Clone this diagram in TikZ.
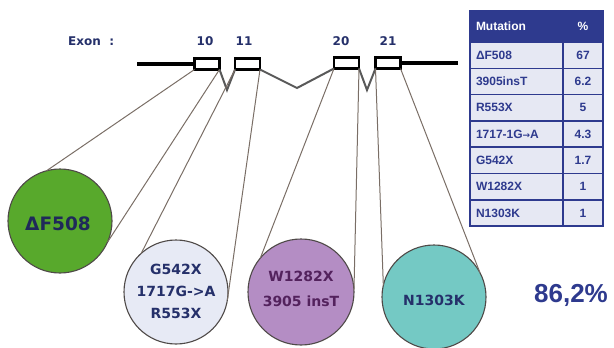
\documentclass[tikz,border=0pt]{standalone}
\usepackage{fontspec}
\setmainfont{Liberation Sans}
\newfontfamily\comic{DejaVu Sans}
\newfontfamily\dejavu{DejaVu Sans}
\definecolor{cgreen}{HTML}{58A92C}
\definecolor{clight}{HTML}{E7EAF5}
\definecolor{cpurple}{HTML}{B48DC4}
\definecolor{cteal}{HTML}{74C9C4}
\definecolor{navy}{HTML}{25306A}
\definecolor{tblue}{HTML}{2E3A8E}
\definecolor{cellfill}{HTML}{E6E8F3}
\definecolor{tangent}{HTML}{7A6E66}
\definecolor{ring}{HTML}{4F4A48}
\tikzset{
  gene/.style={line width=3.2pt, black},
  intron/.style={line width=2pt, black!65, line join=miter},
  exonbox/.style={draw=black, line width=2.8pt, fill=white, minimum width=25pt, minimum height=11pt, inner sep=0pt, outer sep=0pt},
  tline/.style={draw=tangent, line width=1pt},
  bubble/.style={circle, draw=ring, line width=1.1pt, minimum size=104pt, inner sep=0pt, outer sep=0pt},
  ctext/.style={text=navy, align=center, font=\comic\bfseries\fontsize{14}{22.5}\selectfont, inner sep=0pt},
  lbl/.style={text=navy, font=\comic\bfseries\fontsize{12}{13}\selectfont, inner sep=0pt},
  cellL/.style={draw=tblue, line width=1.6pt, fill=cellfill, text=tblue, minimum height=26.3pt, text width=81pt, inner xsep=6pt, inner ysep=0pt, outer sep=0pt, align=left, font=\bfseries\fontsize{12}{13}\selectfont},
  cellR/.style={draw=tblue, line width=1.6pt, fill=cellfill, text=tblue, minimum height=26.3pt, minimum width=40pt, inner sep=0pt, outer sep=0pt, align=center, font=\bfseries\fontsize{12}{13}\selectfont},
  headL/.style={cellL, fill=tblue, text=white, minimum height=31pt},
  headR/.style={cellR, fill=tblue, text=white, minimum height=31pt},
}
\begin{document}
\begin{tikzpicture}[x=1pt,y=-1pt]
\useasboundingbox (0,0) rectangle (614,348);
% labels
\node[lbl, anchor=west] (exlbl) at (68,41) {Exon \ :};
\node[lbl] (l10) at (205,41) {10};
\node[lbl] (l11) at (244,41) {11};
\node[lbl] (l20) at (341,41) {20};
\node[lbl] (l21) at (388,41) {21};
% gene line
\coordinate (gL) at (137,64);
\coordinate (gR) at (458,63);
\node[exonbox] (e10) at (207,64) {};
\node[exonbox] (e11) at (247.5,64) {};
\node[exonbox] (e20) at (346.5,63) {};
\node[exonbox] (e21) at (388,63) {};
\draw[gene] (gL) -- (e10.west);
\draw[gene] (e21.east) -- (gR);
\coordinate (v1) at (227,90);
\coordinate (v2) at (297,88);
\coordinate (v3) at (367,90);
\draw[intron] (e10.south east) -- (v1) -- (e11.south west);
\draw[intron] (e11.south east) -- (v2) -- (e20.south west);
\draw[intron] (e20.south east) -- (v3) -- (e21.south west);
% circles
\node[bubble, fill=cgreen] (cF) at (60,221) {};
\node[bubble, fill=clight] (cL) at (176,292) {};
\node[bubble, fill=cpurple, minimum size=106pt] (cP) at (301,292) {};
\node[bubble, fill=cteal] (cT) at (434,297) {};
\node[ctext, font=\comic\bfseries\fontsize{18.5}{20}\selectfont, text=navy!85!black] (tF) at (58,224) {ΔF508};
\node[ctext, font=\comic\bfseries\fontsize{14}{22}\selectfont] (tL) at (176,291) {G542X\\1717G->A\\R553X};
\node[ctext, font=\comic\bfseries\fontsize{14}{25}\selectfont, text=navy!70!purple] (tP) at (301,289) {W1282X\\3905 insT};
\node[ctext] (tT) at (434,300) {N1303K};
% tangent lines
\draw[tline] (e10.south west) -- (cF.105);
\draw[tline] (e10.south east) -- (cF.-24);
\draw[tline] (e11.south west) -- (cL.132);
\draw[tline] (e11.south east) -- (cL.-9);
\draw[tline] (e20.south west) -- (cP.140);
\draw[tline] (e20.south east) -- (cP.2);
\draw[tline] (e21.south west) -- (cT.167);
\draw[tline] (e21.south east) -- (cT.28);
% table
\node[headL] (h1) at (516.5,26.5) {Mutation};
\node[headR] (h2) at (583,26.5) {\%};
\node[cellL] (a1) at (516.5,55.15) {ΔF508};
\node[cellR] (b1) at (583,55.15) {67};
\node[cellL] (a2) at (516.5,81.45) {3905insT};
\node[cellR] (b2) at (583,81.45) {6.2};
\node[cellL] (a3) at (516.5,107.75) {R553X};
\node[cellR] (b3) at (583,107.75) {5};
\node[cellL] (a4) at (516.5,134.05) {1717-1G{\dejavu\bfseries\fontsize{9}{9}\selectfont →}A};
\node[cellR] (b4) at (583,134.05) {4.3};
\node[cellL] (a5) at (516.5,160.35) {G542X};
\node[cellR] (b5) at (583,160.35) {1.7};
\node[cellL] (a6) at (516.5,186.65) {W1282X};
\node[cellR] (b6) at (583,186.65) {1};
\node[cellL] (a7) at (516.5,212.95) {N1303K};
\node[cellR] (b7) at (583,212.95) {1};
\draw[draw=tblue, line width=2.4pt] (h1.north west) rectangle (b7.south east);
% total
\node[text=tblue, font=\bfseries\fontsize{26}{28}\selectfont, inner sep=0pt] (tot) at (571,295) {86,2\%};
\end{tikzpicture}
\end{document}
